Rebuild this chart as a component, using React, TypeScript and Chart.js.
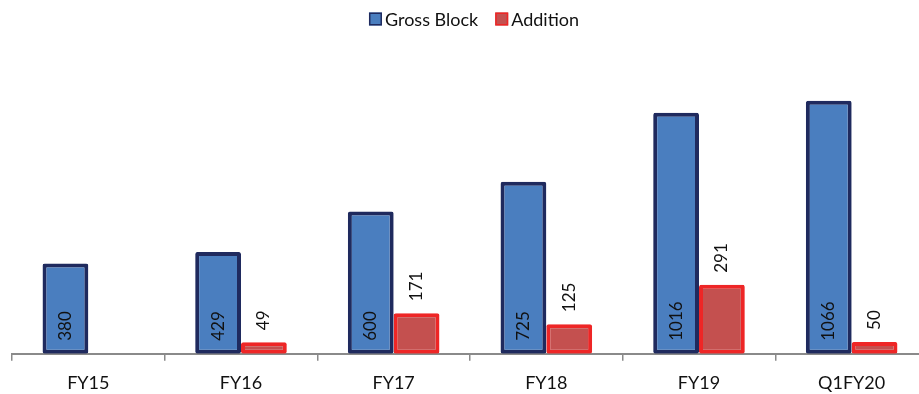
import React, { useEffect, useRef } from 'react';
import { Chart, registerables } from 'chart.js';

Chart.register(...registerables);

const categories = ['FY15', 'FY16', 'FY17', 'FY18', 'FY19', 'Q1FY20'];
const grossBlock = [380, 429, 600, 725, 1016, 1066];
const addition: (number | null)[] = [null, 49, 171, 125, 291, 50];
const seriesNames = ['Gross Block', 'Addition'];

const FONT = 'Lato, "Open Sans", sans-serif';

// Vertical value labels: inside the base for Gross Block, above the bar for Addition
const valueLabels = {
  id: 'valueLabels',
  afterDatasetsDraw(chart: any) {
    const ctx = chart.ctx;
    ctx.save();
    ctx.font = `17px ${FONT}`;
    ctx.fillStyle = '#111';
    ctx.textAlign = 'left';
    ctx.textBaseline = 'middle';
    chart.data.datasets.forEach((ds: any, di: number) => {
      const meta = chart.getDatasetMeta(di);
      meta.data.forEach((el: any, i: number) => {
        const v = ds.data[i];
        if (v == null) return;
        const y = di === 0 ? el.base - 13 : el.y - 12;
        ctx.save();
        ctx.translate(el.x, y);
        ctx.rotate(-Math.PI / 2);
        ctx.fillText(String(v), 0, 0);
        ctx.restore();
      });
    });
    ctx.restore();
  },
};

// Compact legend across the top
const topLegend = {
  id: 'topLegend',
  afterDraw(chart: any) {
    const ctx = chart.ctx;
    ctx.save();
    ctx.font = `18px ${FONT}`;
    ctx.textBaseline = 'middle';
    ctx.textAlign = 'left';
    const box = 13;
    const gapText = 3;
    const gapItem = 17;
    const items = chart.data.datasets.map((ds: any) => ({
      label: ds.label,
      fill: ds.backgroundColor,
      stroke: ds.borderColor,
      w: box + gapText + ctx.measureText(ds.label).width,
    }));
    const total = items.reduce((s: number, it: any) => s + it.w, 0) + gapItem * (items.length - 1);
    let x = chart.width / 2 + 10 - total / 2;
    const cy = 19;
    items.forEach((it: any) => {
      ctx.fillStyle = it.fill;
      ctx.fillRect(x, cy - box / 2, box, box);
      ctx.strokeStyle = it.stroke;
      ctx.lineWidth = 1.5;
      ctx.strokeRect(x + 0.75, cy - box / 2 + 0.75, box - 1.5, box - 1.5);
      ctx.fillStyle = '#111';
      ctx.fillText(it.label, x + box + gapText, cy + 1);
      x += it.w + gapItem;
    });
    ctx.restore();
  },
};

export default function App() {
  const ref = useRef<HTMLCanvasElement>(null);

  useEffect(() => {
    if (!ref.current) return;
    const chart = new Chart(ref.current, {
      type: 'bar',
      data: {
        labels: categories,
        datasets: [
          {
            label: seriesNames[0],
            data: grossBlock,
            backgroundColor: '#4A7EBF',
            borderColor: '#1F2A5E',
            borderWidth: 4,
            borderSkipped: false,
            borderRadius: 2,
          },
          {
            label: seriesNames[1],
            data: addition,
            backgroundColor: '#C4504F',
            borderColor: '#EE2626',
            borderWidth: 4,
            borderSkipped: false,
            borderRadius: 2,
          },
        ],
      },
      options: {
        animation: false,
        responsive: true,
        maintainAspectRatio: false,
        layout: { padding: { top: 69, left: 12, right: 0, bottom: -12 } },
        datasets: { bar: { categoryPercentage: 0.6, barPercentage: 1.0 } },
        plugins: {
          legend: { display: false },
          tooltip: { enabled: false },
        },
        scales: {
          x: {
            grid: {
              offset: true,
              drawOnChartArea: false,
              drawTicks: true,
              tickLength: 7,
              color: '#8a8a8a',
              lineWidth: 1.5,
            },
            border: { display: true, color: '#8a8a8a', width: 2 },
            ticks: {
              color: '#111',
              padding: 10,
              font: { family: FONT, size: 18, lineHeight: 1.4 },
            },
          },
          y: { display: false, min: 0, max: 1200 },
        },
      },
      plugins: [valueLabels, topLegend],
    });
    return () => chart.destroy();
  }, []);

  // The plot runs slightly past the right edge, so the canvas is wider than the frame
  return (
    <div style={{ position: 'fixed', left: 0, top: 0, width: 919, height: 394, overflow: 'hidden', background: '#fff' }}>
      <div style={{ position: 'relative', width: 928, height: 394 }}>
        <canvas ref={ref} />
      </div>
    </div>
  );
}
